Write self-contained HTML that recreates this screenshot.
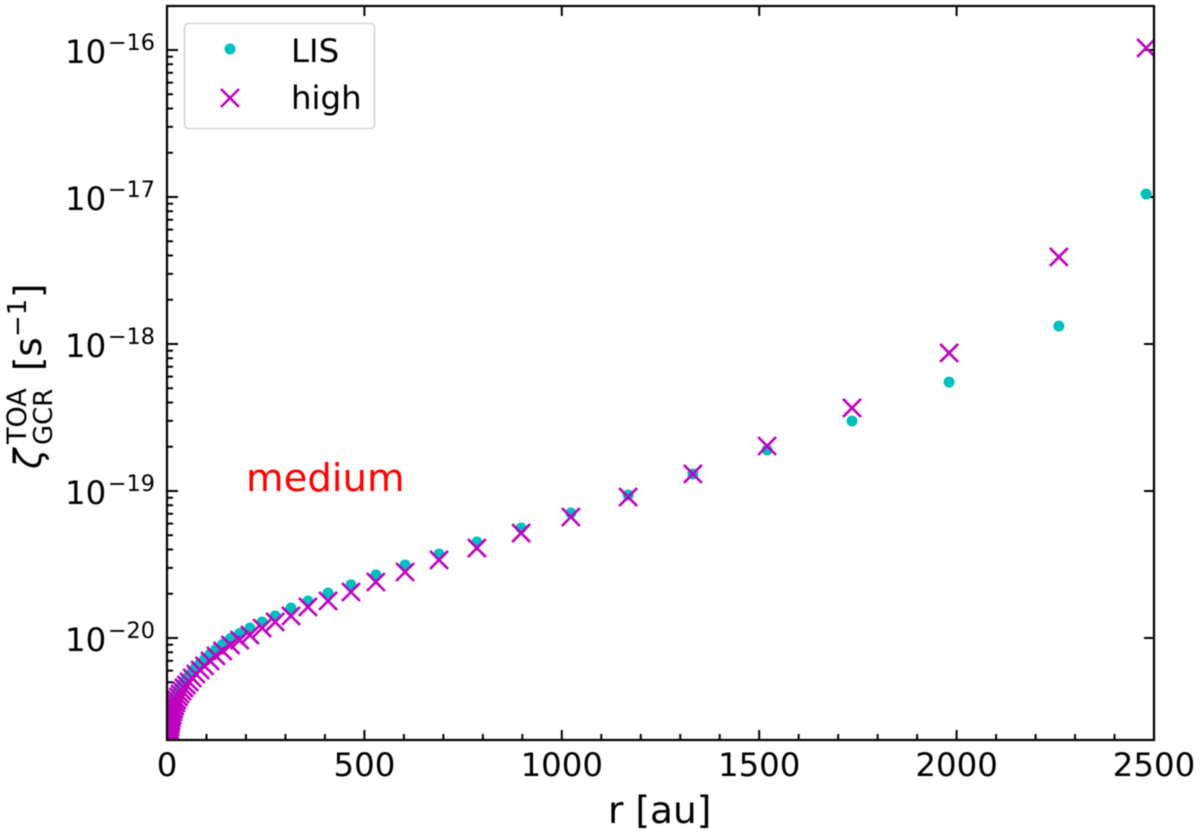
<!DOCTYPE html>
<html lang="en">
<head>
<meta charset="utf-8">
<title>Cosmic-ray ionisation rate versus radius</title>
<style>
html,body{margin:0;padding:0;background:#fff;width:1200px;height:833px;overflow:hidden}
svg{display:block;filter:blur(0.4px)}
text{font-family:"DejaVu Sans","Liberation Sans",sans-serif;fill:#000}
</style>
</head>
<body>
<svg id="chart" xmlns="http://www.w3.org/2000/svg" width="1200" height="833" viewBox="0 0 1200 833">
  <defs><clipPath id="plot-clip"><rect x="167" y="6" width="987" height="734"/></clipPath></defs>
  <rect x="0" y="0" width="1200" height="833" fill="#fff"/>
  <g id="ticks"></g>
  <g id="series-lis" clip-path="url(#plot-clip)"></g>
  <g id="series-high" clip-path="url(#plot-clip)"></g>
  <g id="tick-labels"></g>
  <rect x="167" y="6" width="987" height="734" fill="none" stroke="#000" stroke-width="2.2"/>

  <g>
    <rect x="184.5" y="23.5" width="190" height="105" rx="4" fill="#fff" fill-opacity="0.8" stroke="#d4d4d4" stroke-width="1.6"/>
    <circle cx="230" cy="49" r="5.5" fill="#00bfbf"/>
    <text x="291" y="62" font-size="32.4">LIS</text>
    <path d="M221 89L239 107M221 107L239 89" stroke="#bf00bf" stroke-width="2.6" fill="none"/>
    <text x="291" y="109" font-size="32.4">high</text>
  </g>

  <text x="246" y="491" font-size="38.6" style="fill:#ff0000">medium</text>
  <text x="608" y="823" font-size="37.5">r [au]</text>

  <g>
    <text x="41" y="469" font-size="37" font-style="italic" transform="rotate(-90 41 469)">ζ</text>
    <text x="26" y="444" font-size="27" transform="rotate(-90 26 444)">TOA</text>
    <text x="52" y="445" font-size="26" transform="rotate(-90 52 445)">GCR</text>
    <text x="41" y="371" font-size="37" transform="rotate(-90 41 371)">[s</text>
    <text x="26" y="337" font-size="26" transform="rotate(-90 26 337)">−1</text>
    <text x="41" y="298" font-size="37" transform="rotate(-90 41 298)">]</text>
  </g>
</svg>
<script>
// Radius of each model point, in au
const radiusAu = [2480,2259,1981,1735,1520,1332,1168,1023,897,785,689,603,529,466,408,357,314,274,241,210,184,161,141,124,109,95,84,73,64,56,49,43,38,33,29,25,22,19.5,17,15,13,11.5,10,8.8,7.7,6.8,6,5.2,4.6,4,3.5];
// log10 of the ionisation rate for the LIS series
const logZetaLIS = [-16.980,-17.878,-18.259,-18.524,-18.721,-18.884,-19.027,-19.150,-19.252,-19.347,-19.429,-19.503,-19.571,-19.639,-19.694,-19.748,-19.796,-19.850,-19.891,-19.932,-19.969,-20.003,-20.043,-20.077,-20.111,-20.145,-20.173,-20.200,-20.227,-20.254,-20.275,-20.295,-20.316,-20.336,-20.356,-20.377,-20.397,-20.418,-20.438,-20.458,-20.479,-20.499,-20.520,-20.540,-20.560,-20.581,-20.601,-20.622,-20.642,-20.662,-20.683];
// log10 of the ionisation rate for the high series
const logZetaHigh = [-15.986,-17.408,-18.061,-18.435,-18.694,-18.884,-19.041,-19.177,-19.286,-19.388,-19.469,-19.551,-19.619,-19.687,-19.748,-19.789,-19.850,-19.891,-19.932,-19.980,-20.014,-20.048,-20.088,-20.122,-20.156,-20.190,-20.218,-20.245,-20.272,-20.299,-20.320,-20.340,-20.361,-20.381,-20.401,-20.422,-20.442,-20.463,-20.483,-20.503,-20.524,-20.544,-20.565,-20.585,-20.605,-20.626,-20.646,-20.667,-20.687,-20.707,-20.728];
// Axis tick values
const xTickLabels = [0,500,1000,1500,2000,2500];
const xMinorTicks = [100,200,300,400,600,700,800,900,1100,1200,1300,1400,1600,1700,1800,1900,2100,2200,2300,2400];
const yTickExponents = [-16,-17,-18,-19,-20];
const yMinorMultipliers = [2,3,4,5,6,7,8,9];

const NS = 'http://www.w3.org/2000/svg';
const xMin = 0, xMax = 2500, logMax = -15.7007, logMin = -20.6939;
const left = 167, right = 1154, top_ = 6, bottom = 740;
function xScale(v){ return left + (v - xMin) / (xMax - xMin) * (right - left); }
function yScale(v){ return top_ + (logMax - v) / (logMax - logMin) * (bottom - top_); }
function make(tag, attrs, parent){
  const el = document.createElementNS(NS, tag);
  for (const k in attrs) el.setAttribute(k, attrs[k]);
  parent.appendChild(el);
  return el;
}

const lisGroup = document.getElementById('series-lis');
radiusAu.forEach(function(r, i){
  const dot = make('circle', {cx: xScale(r), cy: yScale(logZetaLIS[i]), r: 5.5, fill: '#00bfbf'}, lisGroup);
  
  
});

const highGroup = document.getElementById('series-high');
radiusAu.forEach(function(r, i){
  const cx = xScale(r), cy = yScale(logZetaHigh[i]), h = 9;
  const d = 'M' + (cx - h) + ' ' + (cy - h) + 'L' + (cx + h) + ' ' + (cy + h) + 'M' + (cx - h) + ' ' + (cy + h) + 'L' + (cx + h) + ' ' + (cy - h);
  const cross = make('path', {d: d, stroke: '#bf00bf', 'stroke-width': 2.6, fill: 'none'}, highGroup);
  
  
});

const tickGroup = document.getElementById('ticks');
const labelGroup = document.getElementById('tick-labels');
function tick(x1, y1, x2, y2, name){
  const t = make('line', {x1: x1, y1: y1, x2: x2, y2: y2, stroke: '#000', 'stroke-width': 2}, tickGroup);
  
  
}
xTickLabels.forEach(function(v){
  const x = xScale(v);
  tick(x, bottom, x, bottom - 10, 'x-major-tick');
  tick(x, top_, x, top_ + 10, 'x-top-tick');
  const label = make('text', {x: x, y: 776, 'font-size': 32.4, 'text-anchor': 'middle'}, labelGroup);
  label.textContent = String(v);
  
  
});
xMinorTicks.forEach(function(v){
  tick(xScale(v), bottom, xScale(v), bottom - 6, 'x-minor-tick');
});
yTickExponents.forEach(function(e){
  const y = yScale(e);
  tick(left, y, left + 11, y, 'y-major-tick');
  tick(right, y, right - 10, y, 'y-right-tick');
  const base = make('text', {x: 65, y: y + 13, 'font-size': 32.4}, labelGroup);
  base.textContent = '10';
  
  
  const exp = make('text', {x: 155, y: y, 'font-size': 22.4, 'text-anchor': 'end'}, labelGroup);
  exp.textContent = '−' + Math.abs(e);
  
  
});
[-21,-20,-19,-18,-17,-16].forEach(function(e){
  yMinorMultipliers.forEach(function(m){
    const v = e + Math.log10(m);
    if (v > logMin && v < logMax) tick(left, yScale(v), left + 6, yScale(v), 'y-minor-tick');
  });
});
</script>
</body>
</html>
